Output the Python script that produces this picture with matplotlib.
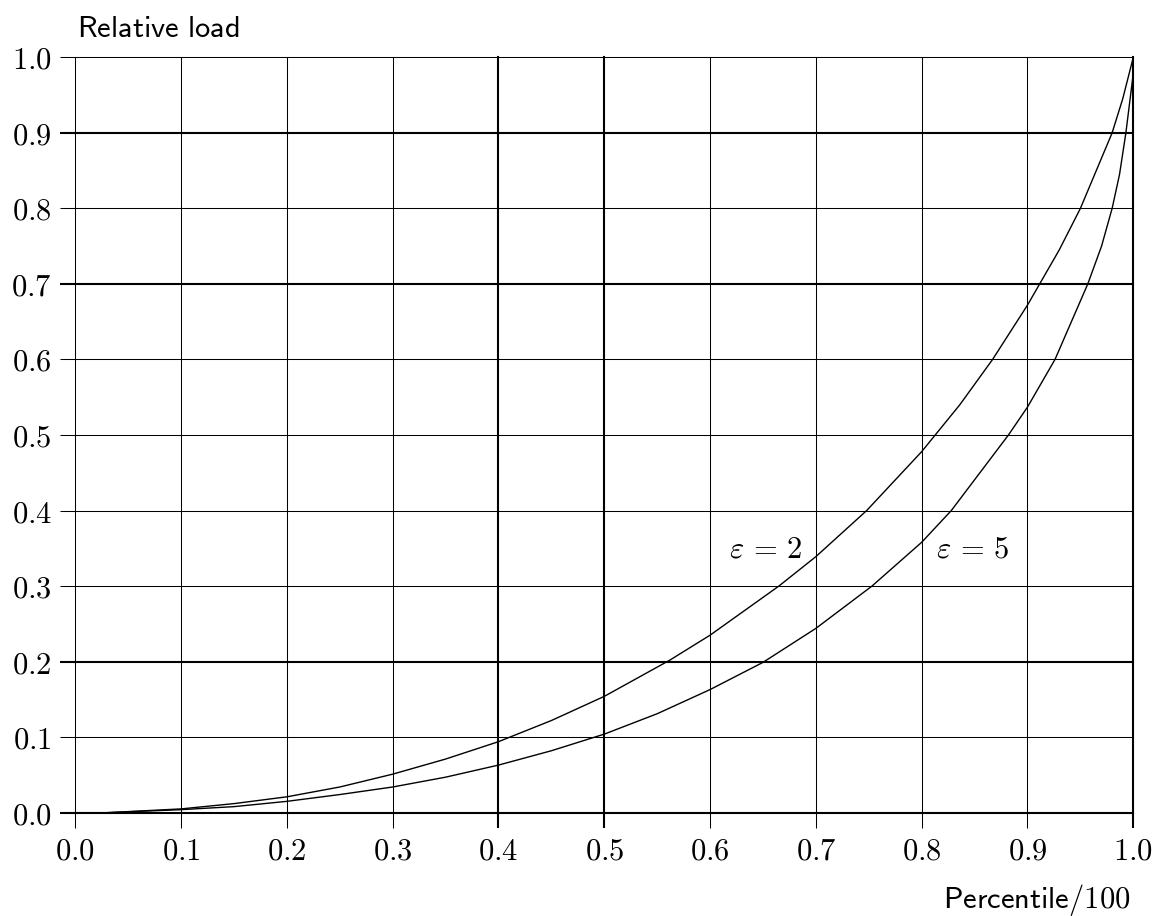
import matplotlib
matplotlib.use("Agg")
import matplotlib.pyplot as plt

plt.rcParams['mathtext.fontset'] = 'cm'

# Data
x_eps2 = [0.0, 0.03, 0.1, 0.15, 0.2, 0.25, 0.3, 0.35, 0.4, 0.45, 0.5, 0.562, 0.6, 0.665,
          0.7, 0.748, 0.8, 0.836, 0.867, 0.9, 0.93, 0.95, 0.98, 0.99, 1.0]
y_eps2 = [0.0, 0.0, 0.005, 0.012, 0.021, 0.034, 0.051, 0.071, 0.094, 0.122, 0.154, 0.202,
          0.235, 0.300, 0.339, 0.400, 0.478, 0.540, 0.600, 0.672, 0.745, 0.800, 0.900, 0.945,
          1.0]

x_eps5 = [0.0, 0.03, 0.1, 0.15, 0.2, 0.25, 0.3, 0.35, 0.4, 0.45, 0.5, 0.55, 0.6, 0.65,
          0.7, 0.753, 0.8, 0.828, 0.882, 0.9, 0.926, 0.957, 0.97, 0.98, 0.987, 0.993,
          0.9994, 1.0]
y_eps5 = [0.0, 0.0, 0.004, 0.008, 0.015, 0.024, 0.034, 0.047, 0.063, 0.082, 0.104, 0.131,
          0.163, 0.199, 0.244, 0.300, 0.358, 0.400, 0.500, 0.537, 0.600, 0.700, 0.750, 0.800,
          0.845, 0.900, 0.972, 1.0]

ticks = [0.0, 0.1, 0.2, 0.3, 0.4, 0.5, 0.6, 0.7, 0.8, 0.9, 1.0]
tick_labels = ['$0.0$', '$0.1$', '$0.2$', '$0.3$', '$0.4$', '$0.5$', '$0.6$', '$0.7$',
               '$0.8$', '$0.9$', '$1.0$']
curve_labels = [r'$\varepsilon\,=\,2$', r'$\varepsilon\,=\,5$']

fig = plt.figure(figsize=(11.55, 9.16), dpi=100)
ax = fig.add_axes([0.0652, 0.1128, 0.9160, 0.8246])

ax.plot(x_eps2, y_eps2, color='black', lw=1.0, zorder=3)
ax.plot(x_eps5, y_eps5, color='black', lw=1.0, zorder=3)

ax.set_xlim(0, 1)
ax.set_ylim(0, 1)
for s in ax.spines.values():
    s.set_visible(False)

ax.set_xticks(ticks)
ax.set_yticks(ticks)
ax.set_xticklabels(tick_labels, fontsize=22)
ax.set_yticklabels(tick_labels, fontsize=22)
ax.tick_params(axis='both', direction='out', length=11, width=0.75, color='black', pad=6)
ax.grid(True, color='black', lw=0.75)

thick_x = [0.4, 0.5, 1.0]
thick_y = [0.0, 0.2, 0.7, 0.9]
for t, v in zip(ax.xaxis.get_major_ticks(), ticks):
    if any(abs(v - w) < 1e-9 for w in thick_x):
        t.tick1line.set_markeredgewidth(1.5)
        t.gridline.set_linewidth(1.5)
for t, v in zip(ax.yaxis.get_major_ticks(), ticks):
    if any(abs(v - w) < 1e-9 for w in thick_y):
        t.tick1line.set_markeredgewidth(1.5)
        t.gridline.set_linewidth(1.5)
for t in ax.xaxis.get_major_ticks() + ax.yaxis.get_major_ticks():
    t.gridline.set_clip_on(False)

ax.text(0.687, 0.349, curve_labels[0], fontsize=22, ha='right', va='center')
ax.text(0.883, 0.349, curve_labels[1], fontsize=22, ha='right', va='center')

fig.text(77 / 1155, 1 - 37 / 916, r'$\mathsf{Relative\ load}$', fontsize=22,
         ha='left', va='baseline')
fig.text(1130 / 1155, 1 - 908 / 916, r'$\mathsf{Percentile/100}$', fontsize=22,
         ha='right', va='baseline')

fig.savefig('out.png', dpi=100)
